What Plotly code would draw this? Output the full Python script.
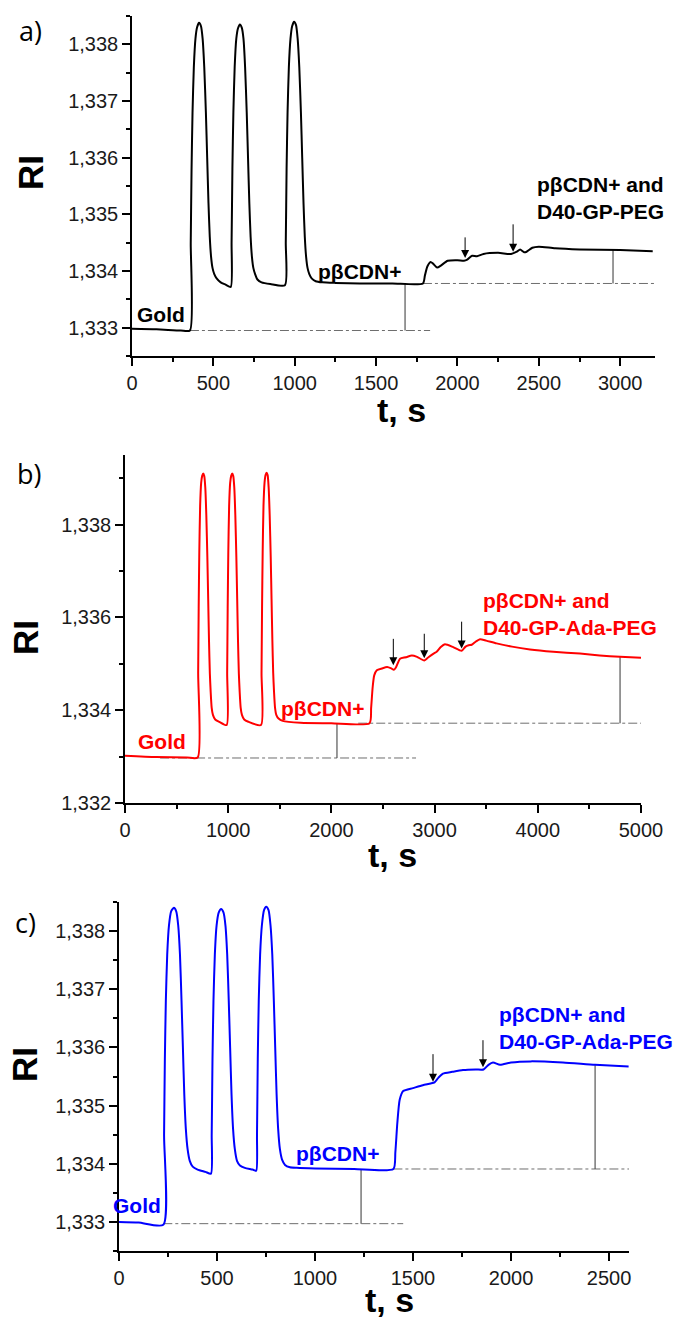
import plotly.graph_objects as go

# ---------------- data: panel a (black) ----------------
t_a = [0, 150, 300, 356,
       361, 366, 372, 380, 390, 400, 412, 424, 434, 444, 454, 462, 470, 478, 486, 495, 505, 520, 545, 575, 607,
       612, 617, 623, 631, 641, 651, 663, 675, 685, 695, 705, 713, 721, 729, 737, 746, 756, 771, 796, 850, 940,
       945, 950, 956, 964, 974, 984, 996, 1008, 1018, 1028, 1038, 1046, 1054, 1062, 1070, 1079, 1089, 1104, 1129,
       1170, 1250, 1400, 1600, 1788,
       1800, 1815, 1835, 1850, 1875, 1900, 1940, 2000, 2040, 2060, 2090, 2120, 2160, 2250, 2330, 2365, 2385, 2410,
       2425, 2460, 2500, 2600, 2750, 3000, 3200]
ri_a = [1.33298, 1.33297, 1.33295, 1.33295,
        1.3345, 1.3358, 1.3368, 1.3376, 1.3381, 1.33830, 1.33838, 1.33832, 1.3381, 1.3376, 1.3368, 1.3360, 1.3352,
        1.3346, 1.33425, 1.33405, 1.33395, 1.33387, 1.33380, 1.33376, 1.33372,
        1.3345, 1.3358, 1.3368, 1.3376, 1.3381, 1.33828, 1.33835, 1.33829, 1.3381, 1.3376, 1.3368, 1.3360, 1.3352,
        1.3346, 1.33425, 1.33405, 1.33395, 1.33385, 1.33380, 1.33377, 1.33375,
        1.3345, 1.3358, 1.3368, 1.3376, 1.3381, 1.33832, 1.33840, 1.33834, 1.3381, 1.3376, 1.3368, 1.3360, 1.3352,
        1.3346, 1.33425, 1.33405, 1.33395, 1.33387, 1.33382, 1.33380, 1.33379, 1.33378, 1.33378, 1.33378,
        1.33392, 1.33408, 1.33416, 1.33413, 1.33406, 1.33410, 1.33418, 1.33419, 1.33418, 1.33420, 1.33427, 1.33426,
        1.33430, 1.33432, 1.33430, 1.33434, 1.33438, 1.33433, 1.33434, 1.33441, 1.33443, 1.33440, 1.33438, 1.33437,
        1.33435]
a_levels = [1.33295, 1.33378]
a_level_from = [356, 1788]
a_level_to = [1832, 3214]
a_marks_t = [1678, 2956]
a_marks_top = [1.33378, 1.33437]
a_arrows_t = [2047, 2342]
a_arrows_tip = [1.33423, 1.33434]
a_arrows_tail = [1.33462, 1.33485]

# ---------------- data: panel b (red) ----------------
t_b = [0, 300, 600, 704,
       709, 714, 720, 728, 738, 748, 758, 768, 778, 788, 798, 806, 814, 822, 830, 840, 852, 874, 914, 985,
       990, 995, 1001, 1009, 1019, 1029, 1039, 1049, 1059, 1069, 1079, 1087, 1095, 1103, 1111, 1121, 1133, 1155, 1195, 1318,
       1323, 1328, 1334, 1342, 1352, 1362, 1372, 1382, 1392, 1402, 1412, 1420, 1428, 1436, 1444, 1454, 1466, 1488, 1528,
       1700, 2000, 2370,
       2385, 2400, 2415, 2440, 2490, 2540, 2580, 2605, 2625, 2665, 2720, 2780, 2830, 2900, 2940, 2990, 3020, 3060,
       3100, 3180, 3262, 3300, 3330, 3360, 3400, 3440, 3500, 3600, 3750, 3924, 4150, 4409, 4600, 4797, 5000]
ri_b = [1.33302, 1.33299, 1.33298, 1.33298,
        1.3348, 1.3362, 1.3374, 1.3384, 1.3389, 1.33905, 1.3391, 1.33905, 1.3388, 1.3382, 1.3373, 1.3364, 1.3355,
        1.3348, 1.3344, 1.33405, 1.3339, 1.33380, 1.33375, 1.33368,
        1.3348, 1.3362, 1.3374, 1.3384, 1.3389, 1.33905, 1.3391, 1.33905, 1.3388, 1.3382, 1.3373, 1.3364, 1.3355,
        1.3348, 1.3344, 1.33405, 1.3339, 1.33380, 1.33375, 1.33368,
        1.3348, 1.3362, 1.3374, 1.3384, 1.3389, 1.33907, 1.33912, 1.33907, 1.3388, 1.3382, 1.3373, 1.3364, 1.3355,
        1.3348, 1.3344, 1.33405, 1.3339, 1.33382, 1.33377,
        1.33373, 1.33372, 1.33372,
        1.33405, 1.33450, 1.33475, 1.33486, 1.33490, 1.33493, 1.33490, 1.33487, 1.33492, 1.33511, 1.33514, 1.33518,
        1.33515, 1.33507, 1.33514, 1.33522, 1.33526, 1.33536, 1.33542, 1.33536, 1.33528, 1.33537, 1.33540, 1.33541,
        1.33548, 1.33553, 1.33550, 1.33544, 1.33537, 1.33531, 1.33526, 1.33522, 1.33518, 1.33515, 1.33513]
b_levels = [1.33297, 1.33372]
b_level_from = [340, 2260]
b_level_to = [2820, 5000]
b_marks_t = [2054, 4797]
b_marks_top = [1.33372, 1.33515]
b_arrows_t = [2600, 2900, 3262]
b_arrows_tip = [1.33497, 1.33512, 1.33533]
b_arrows_tail = [1.33557, 1.33568, 1.33594]

# ---------------- data: panel c (blue) ----------------
t_c = [0, 100, 226,
       230, 234, 239, 246, 255, 266, 280, 292, 302, 311, 319, 326, 333, 341, 350, 361, 376, 401, 441, 469,
       473, 477, 482, 489, 498, 509, 521, 533, 543, 552, 560, 567, 574, 582, 591, 602, 617, 642, 682, 700,
       704, 708, 713, 720, 729, 740, 751, 763, 773, 782, 790, 797, 804, 812, 821, 832, 847, 872, 907, 1000, 1200, 1400,
       1410, 1420, 1432, 1450, 1500, 1550, 1590, 1610, 1630, 1653, 1700, 1755, 1820, 1860, 1885, 1908, 1944, 2000,
       2100, 2265, 2429, 2600]
ri_c = [1.33300, 1.33299, 1.33295,
        1.3345, 1.3358, 1.3368, 1.3376, 1.3381, 1.33834, 1.33840, 1.33834, 1.3381, 1.3376, 1.3368, 1.3360, 1.3352,
        1.3346, 1.33425, 1.33405, 1.33395, 1.33390, 1.33386, 1.33383,
        1.3345, 1.3358, 1.3368, 1.3376, 1.3381, 1.33832, 1.33838, 1.33832, 1.3381, 1.3376, 1.3368, 1.3360, 1.3352,
        1.3346, 1.33425, 1.33405, 1.33397, 1.33393, 1.33390, 1.33388,
        1.3345, 1.3358, 1.3368, 1.3376, 1.3381, 1.33836, 1.33842, 1.33836, 1.3381, 1.3376, 1.3368, 1.3360, 1.3352,
        1.3346, 1.33425, 1.33407, 1.33398, 1.33394, 1.33393, 1.33392, 1.33391, 1.33391,
        1.33420, 1.33470, 1.33510, 1.33525, 1.33530, 1.33535, 1.33538, 1.33540, 1.33548, 1.33555, 1.33558, 1.33561,
        1.33562, 1.33562, 1.33570, 1.33574, 1.33570, 1.33574, 1.33576, 1.33574, 1.33570, 1.33567]
c_levels = [1.33297, 1.33391]
c_level_from = [226, 1400]
c_level_to = [1450, 2602]
c_marks_t = [1235, 2429]
c_marks_top = [1.33391, 1.33570]
c_arrows_t = [1602, 1857]
c_arrows_tip = [1.33541, 1.33566]
c_arrows_tail = [1.33591, 1.33615]

# text labels
lab_gold = "Gold"
lab_pcd = "pβCDN+"
lab_a_mix = "pβCDN+ and<br>D40-GP-PEG"
lab_bc_mix = "pβCDN+ and<br>D40-GP-Ada-PEG"
panel_letters = ["a)", "b)", "c)"]
y_title = "RI"
x_title = "t, s"

FONT = "Liberation Sans, Arial, sans-serif"
W, H = 675, 1319

panels = [
    dict(t=t_a, ri=ri_a, color="#000000", levels=a_levels, lf=a_level_from, lt=a_level_to,
         mt=a_marks_t, mtop=a_marks_top, at=a_arrows_t, atip=a_arrows_tip, atail=a_arrows_tail,
         xr=[0, 3214], yr=[1.3325, 1.3385], xd=500, xm=250, yd=0.001, ym=0.0005,
         px=(132, 655), py=(16, 356),
         labels=[(lab_gold, 178, 1.33323, "center"), (lab_pcd, 1401, 1.33399, "center"),
                 (lab_a_mix, 2477, 1.33528, "left")],
         letter=(30, 30), ytit=(30, 173), xtit=(402, 410)),
    dict(t=t_b, ri=ri_b, color="#ff0000", levels=b_levels, lf=b_level_from, lt=b_level_to,
         mt=b_marks_t, mtop=b_marks_top, at=b_arrows_t, atip=b_arrows_tip, atail=b_arrows_tail,
         xr=[0, 5000], yr=[1.332, 1.3395], xd=1000, xm=500, yd=0.002, ym=0.001,
         px=(125, 641), py=(455, 803),
         labels=[(lab_gold, 359, 1.33333, "center"), (lab_pcd, 1909, 1.33404, "center"),
                 (lab_bc_mix, 3450, 1.33608, "left")],
         letter=(29, 473), ytit=(25, 638), xtit=(392, 855)),
    dict(t=t_c, ri=ri_c, color="#0000ff", levels=c_levels, lf=c_level_from, lt=c_level_to,
         mt=c_marks_t, mtop=c_marks_top, at=c_arrows_t, atip=c_arrows_tip, atail=c_arrows_tail,
         xr=[0, 2602], yr=[1.3325, 1.3385], xd=500, xm=250, yd=0.001, ym=0.0005,
         px=(119, 629), py=(902, 1251),
         labels=[(lab_gold, 92, 1.33328, "center"), (lab_pcd, 1117, 1.33418, "center"),
                 (lab_bc_mix, 1929, 1.33634, "left")],
         letter=(25, 922), ytit=(24, 1065), xtit=(390, 1300)),
]

fig = go.Figure()
annotations = []
layout = {}

for i, p in enumerate(panels):
    n = "" if i == 0 else str(i + 1)
    xa, ya = "x" + n, "y" + n
    # dash-dot reference levels
    for lev, f, t in zip(p["levels"], p["lf"], p["lt"]):
        fig.add_trace(go.Scatter(x=[f, t], y=[lev, lev], xaxis=xa, yaxis=ya, mode="lines",
                                 line=dict(color="#6e6e6e", width=1, dash="dashdot"),
                                 showlegend=False, hoverinfo="skip"))
    # vertical markers
    for k, (mt, top) in enumerate(zip(p["mt"], p["mtop"])):
        fig.add_trace(go.Scatter(x=[mt, mt], y=[p["levels"][k], top], xaxis=xa, yaxis=ya, mode="lines",
                                 line=dict(color="#555555", width=1.2),
                                 showlegend=False, hoverinfo="skip"))
    # main curve
    fig.add_trace(go.Scatter(x=p["t"], y=p["ri"], xaxis=xa, yaxis=ya, mode="lines",
                             line=dict(color=p["color"], width=2, shape="spline", smoothing=0.6),
                             showlegend=False))
    # arrows
    for at, tip, tail in zip(p["at"], p["atip"], p["atail"]):
        annotations.append(dict(x=at, y=tip, ax=at, ay=tail, xref=xa, yref=ya, axref=xa, ayref=ya,
                                text="", showarrow=True, arrowhead=2, arrowsize=1.6, arrowwidth=1,
                                arrowcolor="#000000"))
    # labels
    for txt, lx, ly, anc in p["labels"]:
        annotations.append(dict(x=lx, y=ly, xref=xa, yref=ya, text="<b>%s</b>" % txt, showarrow=False,
                                xanchor=anc, yanchor="middle", align=anc,
                                font=dict(family=FONT, size=21, color=p["color"])))
    # panel letter, axis titles
    annotations.append(dict(x=p["letter"][0] / W, y=1 - p["letter"][1] / H, xref="paper", yref="paper",
                            text=panel_letters[i], showarrow=False, xanchor="center", yanchor="middle",
                            font=dict(family="Open Sans, sans-serif", size=27, color="#000000")))
    annotations.append(dict(x=p["ytit"][0] / W, y=1 - p["ytit"][1] / H, xref="paper", yref="paper",
                            text="<b>%s</b>" % y_title, showarrow=False, textangle=-90,
                            xanchor="center", yanchor="middle",
                            font=dict(family=FONT, size=35, color="#000000")))
    annotations.append(dict(x=p["xtit"][0] / W, y=1 - p["xtit"][1] / H, xref="paper", yref="paper",
                            text="<b>%s</b>" % x_title, showarrow=False, borderpad=0,
                            xanchor="center", yanchor="middle",
                            font=dict(family=FONT, size=34, color="#000000")))

    axis_common = dict(showline=True, linecolor="#000000", linewidth=1.5, ticks="outside", ticklen=8,
                       tickwidth=1.5, tickcolor="#000000", showgrid=False, zeroline=False, mirror=False,
                       automargin=False, ticklabelstandoff=0,
                       tickfont=dict(family=FONT, size=20, color="#1a1a1a"))
    layout["xaxis" + n] = dict(axis_common, domain=[p["px"][0] / W, p["px"][1] / W], range=p["xr"],
                               anchor=ya, tick0=0, dtick=p["xd"],
                               minor=dict(dtick=p["xm"], tick0=0, ticklen=4, tickwidth=1.5,
                                          tickcolor="#000000", ticks="outside"))
    layout["yaxis" + n] = dict(axis_common, domain=[1 - p["py"][1] / H, 1 - p["py"][0] / H], range=p["yr"],
                               anchor=xa, tick0=1.332, dtick=p["yd"], tickformat=".3f",
                               minor=dict(dtick=p["ym"], tick0=1.332, ticklen=4, tickwidth=1.5,
                                          tickcolor="#000000", ticks="outside"))

fig.update_layout(width=W, height=H, margin=dict(l=0, r=0, t=0, b=0, autoexpand=False),
                  paper_bgcolor="white", plot_bgcolor="white", separators=", ",
                  annotations=annotations, showlegend=False, **layout)
fig.write_html("out.html", config={"displayModeBar": False},
               post_script="document.body.style.margin='0';document.body.style.overflow='hidden';")
